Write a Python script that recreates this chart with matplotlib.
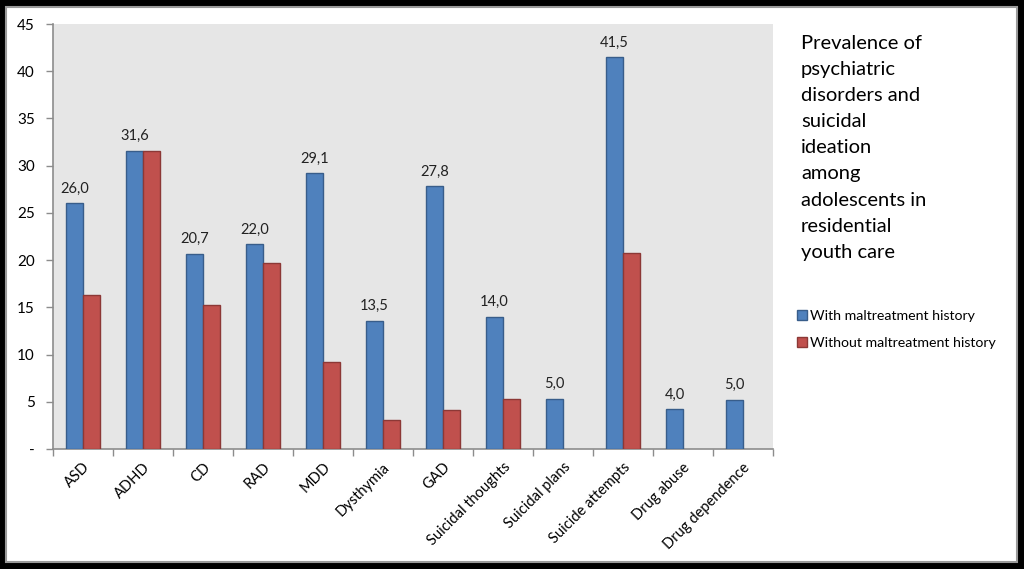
import numpy as np
import matplotlib.pyplot as plt
from matplotlib.patches import Rectangle

plt.rcParams['font.family'] = ['Lato', 'DejaVu Sans']

# data
categories = ['ASD', 'ADHD', 'CD', 'RAD', 'MDD', 'Dysthymia', 'GAD',
              'Suicidal thoughts', 'Suicidal plans', 'Suicide attempts',
              'Drug abuse', 'Drug dependence']
with_maltreatment = [26.0, 31.6, 20.7, 21.7, 29.2, 13.6, 27.8, 14.0, 5.3, 41.5, 4.2, 5.2]
without_maltreatment = [16.3, 31.6, 15.3, 19.7, 9.2, 3.1, 4.1, 5.3, 0, 20.8, 0, 0]
value_labels = ['26,0', '31,6', '20,7', '22,0', '29,1', '13,5', '27,8',
                '14,0', '5,0', '41,5', '4,0', '5,0']
yticks = [0, 5, 10, 15, 20, 25, 30, 35, 40, 45]
ytick_labels = ['-', '5', '10', '15', '20', '25', '30', '35', '40', '45']
title = ('Prevalence of\npsychiatric\ndisorders and\nsuicidal\nideation\n'
         'among\nadolescents in\nresidential\nyouth care')

fig = plt.figure(figsize=(10.24, 5.69), dpi=100, facecolor='black')
W, H = 1024, 569
# white panel inside the black frame
fig.patches.append(Rectangle((6 / W, 7 / H), (W - 13) / W, (H - 14) / H,
                             transform=fig.transFigure, facecolor='white',
                             edgecolor='#9a9a9a', linewidth=1.5, zorder=-10))

ax = fig.add_axes([53 / W, (H - 449) / H, 720 / W, 425 / H])
ax.set_facecolor('#e6e6e6')

x = np.arange(len(categories))
w = 0.28
ax.bar(x - w / 2, with_maltreatment, w, color='#4f81bd', edgecolor='#385d8a',
       linewidth=1, label='With maltreatment history', zorder=3)
red = [v if v > 0 else np.nan for v in without_maltreatment]
ax.bar(x + w / 2, red, w, color='#c0504d', edgecolor='#8c3836',
       linewidth=1, label='Without maltreatment history', zorder=3)

for xi, v, lab in zip(x, with_maltreatment, value_labels):
    ax.text(xi - w / 2, v + 0.8, lab, ha='center', va='bottom', fontsize=10.5,
            color='#222222')

ax.set_xlim(-0.5, len(categories) - 0.5)
ax.set_ylim(0, 45)
ax.set_yticks(yticks)
ax.set_yticklabels(ytick_labels, fontsize=11)
ax.set_xticks(x)
ax.set_xticklabels(categories, rotation=45, ha='right', rotation_mode='anchor',
                   fontsize=10.5)
ax.set_xticks(np.arange(-0.5, len(categories)), minor=True)
ax.tick_params(axis='x', which='major', length=0, pad=8)
ax.tick_params(axis='x', which='minor', length=5, color='#8c8c8c', width=1)
ax.tick_params(axis='y', length=5, color='#8c8c8c', width=1, pad=8)
for s in ['top', 'right']:
    ax.spines[s].set_visible(False)
for s in ['left', 'bottom']:
    ax.spines[s].set_color('#8c8c8c')
    ax.spines[s].set_linewidth(1.2)

fig.text(801 / W, 1 - 35 / H, title, ha='left', va='top', fontsize=14.5,
         linespacing=1.65, color='black')

fig.legend(loc='upper left', bbox_to_anchor=(784 / W, 1 - 297 / H),
           frameon=False, fontsize=10.2, handlelength=0.7, handleheight=0.7,
           handletextpad=0.25, labelspacing=1.1)

fig.savefig('out.png', dpi=100, facecolor='black')
